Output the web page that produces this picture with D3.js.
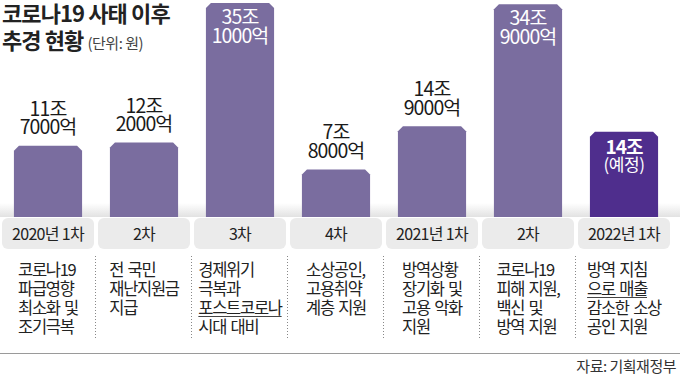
<!DOCTYPE html>
<html>
<head>
<meta charset="utf-8">
<script src="https://cdn.jsdelivr.net/npm/d3@7"></script>
<style>
  html, body { margin: 0; padding: 0; background: #fff; }
  svg { display: block; font-family: "Noto Sans CJK KR", "Noto Sans", sans-serif; }
</style>
</head>
<body>
<svg id="chart" width="680" height="378"></svg>
<script>
'use strict';

// 추경 차수
var rounds = ["2020년 1차", "2차", "3차", "4차", "2021년 1차", "2차", "2022년 1차"];
// 규모 (조 원)
var amounts = [11.7, 12.2, 35.1, 7.8, 14.9, 34.9, 14];
var amountLabels = [
    ["11조", "7000억"], ["12조", "2000억"], ["35조", "1000억"], ["7조", "8000억"],
    ["14조", "9000억"], ["34조", "9000억"], ["14조", "(예정)"]
];
var planned = [false, false, false, false, false, false, true];
var descriptions = [
    ["코로나19", "파급영향", "최소화 및", "조기극복"],
    ["전 국민", "재난지원금", "지급"],
    ["경제위기", "극복과", "포스트코로나", "시대 대비"],
    ["소상공인,", "고용취약", "계층 지원"],
    ["방역상황", "장기화 및", "고용 악화", "지원"],
    ["코로나19", "피해 지원,", "백신 및", "방역 지원"],
    ["방역 지침", "으로 매출", "감소한 소상", "공인 지원"]
];
var underlined = ["포스트코로나", "으로 매출"];
var titleLines = ["코로나19 사태 이후", "추경 현황"];
var unitText = "(단위: 원)";
var sourceText = "자료: 기획재정부";

var W = 680, H = 378,
    baseY = 217;

var svg = d3.select("#chart");

var x = d3.scaleBand()
    .domain(d3.range(rounds.length))
    .range([0, 672])
    .paddingInner(0.29)
    .paddingOuter(0.145);
var step = x.step();

var y = d3.scaleLinear().domain([0, 35.1]).range([baseY, 3]);

// floor strip behind the bars
var defs = svg.append("defs");
var grad = defs.append("linearGradient")
    .attr("id", "floor").attr("x1", 0).attr("y1", 0).attr("x2", 0).attr("y2", 1);
grad.append("stop").attr("offset", "0%").attr("stop-color", "#fff");
grad.append("stop").attr("offset", "100%").attr("stop-color", "#e2e2e2");
svg.append("rect")
    .attr("x", 0).attr("y", 203).attr("width", W).attr("height", baseY - 203)
    .attr("fill", "url(#floor)");

// bars with cut top corners
function barPath(i) {
    var x0 = x(i), x1 = x(i) + x.bandwidth(), t = y(amounts[i]), c = 5;
    return "M" + x0 + "," + baseY + "V" + (t + c) + "L" + (x0 + c) + "," + t +
        "H" + (x1 - c) + "L" + x1 + "," + (t + c) + "V" + baseY + "Z";
}
svg.append("g").selectAll("path")
    .data(amounts)
    .enter().append("path")
    .attr("d", function(d, i){ return barPath(i); })
    .attr("fill", function(d, i){ return planned[i] ? "#4f2e8d" : "#7a6d9f"; });

// value labels
var labels = svg.append("g").attr("text-anchor", "middle");
amounts.forEach(function(v, i){
    var cx = x(i) + x.bandwidth() / 2, t = y(v);
    var inside = planned[i] || v > 30;
    var g = labels.append("g").attr("fill", inside ? "#fff" : "#1a1a1a");
    if (planned[i]) {
        g.append("text").attr("x", cx).attr("y", t + 22)
            .style("font-size", "19px").style("font-weight", 700).style("letter-spacing", "-1px")
            .text(amountLabels[i][0]);
        g.append("text").attr("x", cx).attr("y", t + 39)
            .style("font-size", "17px").style("letter-spacing", "-0.5px")
            .text(amountLabels[i][1]);
    } else {
        var y0 = inside ? t + 21 : t - 30;
        amountLabels[i].forEach(function(s, k){
            g.append("text").attr("x", cx).attr("y", y0 + k * 18.5)
                .style("font-size", "19.5px").style("letter-spacing", "-0.9px")
                .text(s);
        });
    }
});

// round label boxes
var cats = svg.append("g");
rounds.forEach(function(r, i){
    var cx = x(i) + x.bandwidth() / 2;
    cats.append("rect")
        .attr("x", cx - 46).attr("y", 218).attr("width", 92).attr("height", 31)
        .attr("rx", 6).attr("fill", "#ebebeb");
    cats.append("text")
        .attr("x", cx).attr("y", 240).attr("text-anchor", "middle")
        .style("font-size", "16px").style("letter-spacing", "-0.7px").attr("fill", "#222")
        .text(r);
});

// dotted separators
svg.append("g").selectAll("line")
    .data(d3.range(1, rounds.length))
    .enter().append("line")
    .attr("x1", function(i){ return i * step - 0.5; })
    .attr("x2", function(i){ return i * step - 0.5; })
    .attr("y1", 256).attr("y2", 340)
    .attr("stroke", "#888").attr("stroke-width", 1).attr("stroke-dasharray", "1,2");

// descriptions, left aligned blocks centred in each column
var desc = svg.append("g");
descriptions.forEach(function(lines, i){
    var cx = x(i) + x.bandwidth() / 2;
    var g = desc.append("g");
    var texts = lines.map(function(s, k){
        return g.append("text").attr("y", 276 + k * 19)
            .style("font-size", "16.5px").style("letter-spacing", "-1.3px")
            .style("word-spacing", "2px").attr("fill", "#222")
            .text(s);
    });
    var wMax = d3.max(texts, function(t){ return t.node().getComputedTextLength(); });
    texts.forEach(function(t, k){
        var x0 = cx - wMax / 2;
        t.attr("x", x0);
        if (underlined.indexOf(lines[k]) >= 0) {
            g.append("line")
                .attr("x1", x0).attr("x2", x0 + t.node().getComputedTextLength())
                .attr("y1", 276 + k * 19 + 2.5).attr("y2", 276 + k * 19 + 2.5)
                .attr("stroke", "#444").attr("stroke-width", 1);
        }
    });
});

// bottom rule and source
svg.append("line")
    .attr("x1", 0).attr("x2", W).attr("y1", 353.5).attr("y2", 353.5)
    .attr("stroke", "#9a9a9a").attr("stroke-width", 1);
svg.append("text")
    .attr("x", 676).attr("y", 372).attr("text-anchor", "end")
    .style("font-size", "15px").style("letter-spacing", "-0.5px").attr("fill", "#333")
    .text(sourceText);

// title
var title = svg.append("g").attr("fill", "#222");
title.append("text").attr("x", 2).attr("y", 22)
    .style("font-size", "22px").style("font-weight", 700).style("letter-spacing", "-0.9px")
    .text(titleLines[0]);
var t2 = title.append("text").attr("x", 2).attr("y", 49)
    .style("font-size", "22px").style("font-weight", 700).style("letter-spacing", "-0.9px");
t2.append("tspan").text(titleLines[1]);
t2.append("tspan").attr("dx", 4)
    .style("font-size", "15px").style("font-weight", 400).style("letter-spacing", "-0.5px")
    .attr("fill", "#444")
    .text(unitText);
</script>
</body>
</html>
